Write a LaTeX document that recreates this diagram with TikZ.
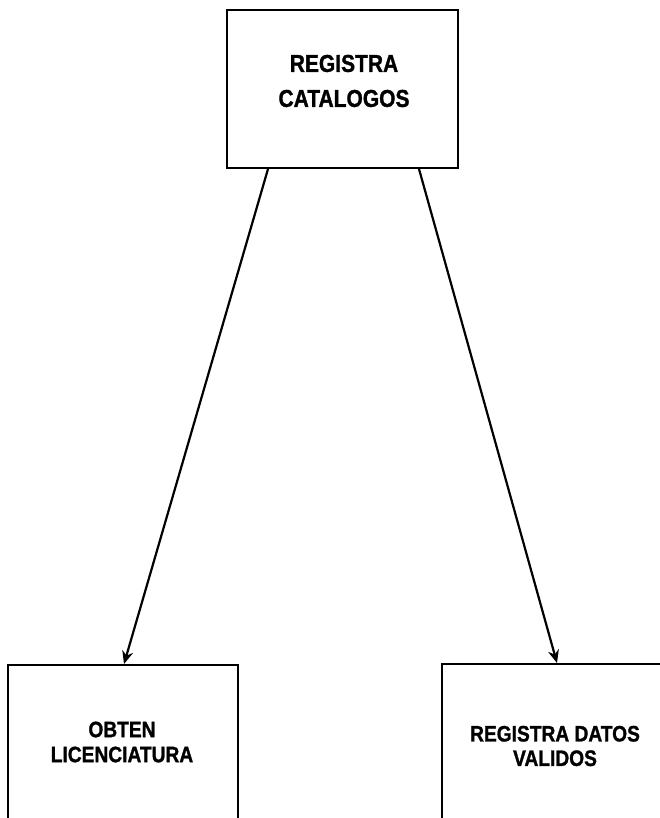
\documentclass[tikz,border=0pt]{standalone}
\usepackage{fontspec}
\setmainfont{Liberation Sans}[FakeStretch=0.86]
\newfontfamily\labelfont{Liberation Sans Bold}[FakeStretch=0.86,FakeBold=1.2]
\usetikzlibrary{arrows.meta}
\begin{document}
\begin{tikzpicture}[x=1pt,y=-1pt,
  procbox/.style={draw=black,line width=2pt,rectangle,inner sep=0pt,anchor=north west},
  boxtext/.style={align=center,inner sep=0pt},
  link/.style={line width=2.2pt,-{Stealth[length=13pt,width=11pt]}}]
\useasboundingbox (0,0) rectangle (660,818);
\clip (0,0) rectangle (660,818);
% process boxes
\node[procbox,minimum width=231pt,minimum height=158pt] (cat) at (226,9) {};
\node[procbox,minimum width=230pt,minimum height=170pt] (lic) at (7,664) {};
\node[procbox,minimum width=230pt,minimum height=170pt] (val) at (441,663) {};
% labels
\node[boxtext,font=\fontsize{24.4}{35}\labelfont] (catt) at (344,81) {REGISTRA\\CATALOGOS};
\node[boxtext,font=\fontsize{22.3}{25}\labelfont] (lict) at (122,742) {OBTEN\\LICENCIATURA};
\node[boxtext,font=\fontsize{22.3}{24.5}\labelfont] (valt) at (555,746) {REGISTRA DATOS\\VALIDOS};
% connectors
\draw[link] ([xshift=42pt]cat.south west) -- ([xshift=117pt]lic.north west);
\draw[link] ([xshift=193pt]cat.south west) -- ([xshift=116pt]val.north west);
\end{tikzpicture}
\end{document}
